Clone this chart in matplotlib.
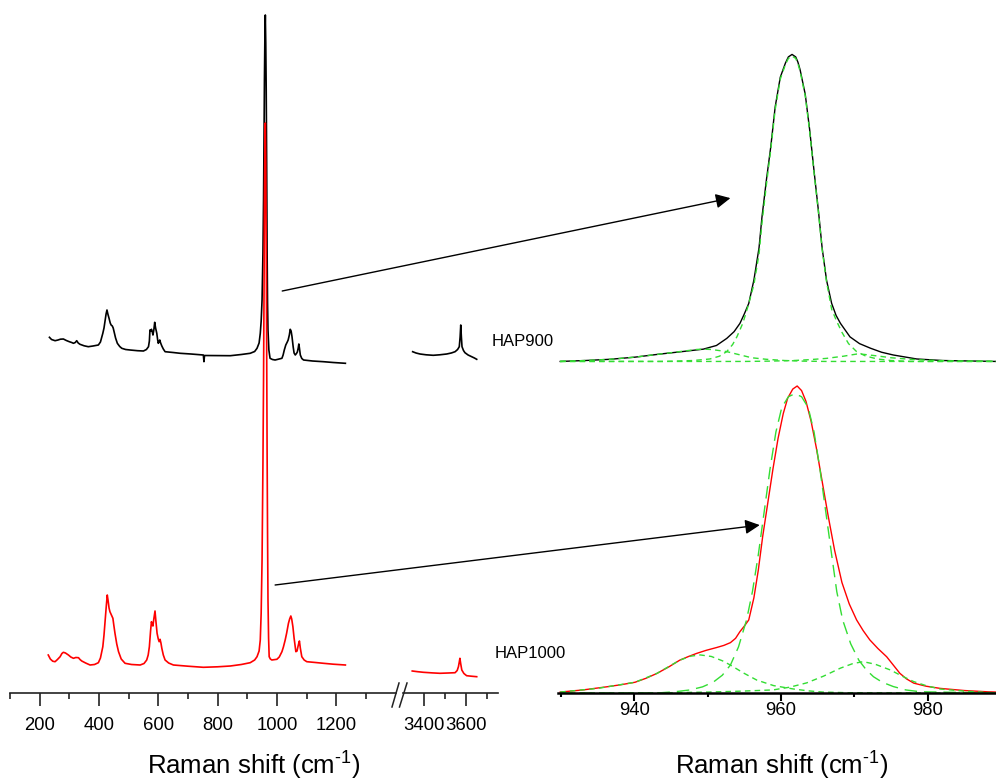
import matplotlib
matplotlib.use('Agg')

import matplotlib.pyplot as plt
from matplotlib.lines import Line2D
from matplotlib.ticker import FixedLocator

plt.rcParams['font.family'] = ['Liberation Sans', 'DejaVu Sans']
plt.rcParams['mathtext.fontset'] = 'custom'
plt.rcParams['mathtext.rm'] = 'Liberation Sans'
plt.rcParams['mathtext.it'] = 'Liberation Sans:italic'

# ---- full spectra (stacked intensity, a.u.) ----
# low-wavenumber part
hap900_x = [233, 240, 252, 262, 270, 280, 290, 300, 308, 314, 320, 325, 330, 336, 350, 364,
            380, 398, 405, 413, 417, 421, 424, 427, 430, 434, 438, 441, 445, 448, 451, 456,
            462, 470, 477, 490, 505, 530, 550, 560, 567, 570, 572, 575, 577, 580, 582, 585,
            588, 591, 595, 598, 600, 603, 605, 608, 612, 617, 623, 650, 674, 710, 752, 754,
            756, 800, 843, 880, 910, 925, 933, 940, 944, 947, 950, 953, 955, 957, 958, 959.5,
            961, 962.5, 964, 965.5, 967, 968.5, 970, 973, 977, 985, 994, 1005, 1017, 1021,
            1025, 1030, 1035, 1038, 1042, 1045, 1048, 1051, 1055, 1058, 1062, 1066, 1069,
            1072, 1074, 1076, 1079, 1084, 1090, 1120, 1157, 1190, 1231]
hap900_y = [355.7, 353.5, 352.3, 353, 353.8, 354, 352.5, 351.3, 350.5, 349.7, 350.5, 352.3,
            350, 348.7, 347.2, 346.3, 347, 348, 351, 359.7, 365, 373, 379, 383, 379, 374.7,
            370, 368, 367, 365, 361.3, 355, 349.7, 346.5, 344.7, 343.5, 343, 342.3, 342,
            343.5, 346.3, 352, 363, 362, 363.7, 361, 358, 363, 370.7, 365, 359.7, 353, 349.7,
            351.5, 353, 350, 347, 344, 341.3, 340.5, 339.7, 339, 338, 331.3, 337.5, 337.4,
            337.3, 338.5, 339.7, 341.5, 344.7, 350, 359.7, 372, 393, 440, 493, 570, 613,
            655, 678, 650, 603, 530, 443, 390, 363, 343, 334.7, 333.5, 333, 333.8, 334.7,
            338, 343, 348, 351, 353, 358, 363.7, 362, 356.3, 346, 340, 338, 339.5, 341, 345,
            349, 345, 338, 334.5, 333, 332, 331.3, 330.5, 329.7]
hap1000_x = [229, 236, 244, 252, 260, 269, 275, 280, 287, 297, 305, 314, 322, 331, 336, 342,
             355, 370, 385, 398, 405, 413, 417, 421, 425, 428, 431, 434, 437, 442, 447, 450,
             454, 460, 466, 475, 488, 510, 539, 552, 561, 566, 570, 574, 577, 580, 582, 585,
             589, 592, 596, 600, 603, 606, 609, 612, 617, 623, 635, 651, 700, 752, 800, 843,
             880, 910, 925, 933, 940, 944, 947, 950, 953, 955, 957, 958, 959.5, 961, 962.5,
             964, 965.5, 967, 968.5, 970, 972, 974, 978, 983, 990, 1000, 1008, 1017, 1022,
             1028, 1033, 1039, 1043, 1047, 1050, 1054, 1058, 1064, 1068, 1071, 1074, 1076,
             1079, 1084, 1092, 1101, 1130, 1157, 1190, 1231]
hap1000_y = [38, 34, 31.8, 31.3, 33.5, 36.3, 39.5, 40.7, 40, 38, 36, 34.7, 35.5, 35.3, 33.5,
             32, 30, 28, 28.5, 30.3, 35, 46.3, 58, 73, 88, 98, 92, 85, 81.3, 78, 74.7, 68,
             59.7, 49, 41.3, 34, 29.7, 28.5, 28, 29.5, 33, 38, 46.3, 62, 71.3, 68, 67, 74, 82,
             72, 59.7, 54, 51.3, 53.7, 50, 44.7, 38, 33, 30, 28, 26.8, 25.7, 26.2, 27, 28.5,
             30.3, 33, 36.3, 42, 53, 80, 133, 230, 313, 420, 493, 545, 570, 530, 453, 350, 243,
             160, 93, 55, 36.3, 34, 33, 33.3, 33.7, 36, 41.3, 46, 53, 60, 69.7, 74, 77, 74,
             66.3, 55, 41.3, 42, 46.3, 50, 52, 45, 36.3, 33, 31.3, 30.5, 29.7, 28.8, 28]
# OH stretching region
oh900_x = [3346, 3362, 3381, 3410, 3444, 3475, 3508, 3530, 3548, 3560, 3568, 3572, 3575,
           3578, 3581, 3588, 3595, 3610, 3627, 3640, 3651]
oh900_y = [341.3, 340, 339, 338.2, 337.7, 338.2, 339, 340, 341.3, 343.5, 346.3, 356, 368,
           356, 346.3, 342.5, 340.3, 338, 336.3, 335, 333.7]
oh1000_x = [3344, 3370, 3397, 3440, 3476, 3515, 3548, 3558, 3564, 3568, 3571, 3575, 3580,
            3590, 3603, 3625, 3651]
oh1000_y = [22, 21.3, 20.7, 20.1, 19.7, 20, 20.3, 22.5, 26.3, 31, 34.7, 29, 23, 19.5, 17.3,
            16.8, 16.3]

# ---- v1 PO4 band, normalised, with fitted components ----
b_x = [929.9, 933.3, 936.7, 940.1, 943.5, 946.5, 949.4, 951.2, 952.6, 953.6, 954.4, 955.0,
       955.6, 956.3, 957.0, 957.4, 958.0, 958.6, 959.2, 959.9, 960.6, 961.0, 961.5, 962.0,
       962.3, 962.6, 963.3, 963.9, 964.5, 965.1, 965.6, 966.2, 966.9, 967.5, 968.1, 969.4,
       970.7, 972.2, 973.7, 975.3, 978.5, 982, 989.3]
b_y = [0.0, 0.003, 0.007, 0.014, 0.024, 0.032, 0.040, 0.052, 0.075, 0.097, 0.124, 0.155,
       0.189, 0.265, 0.37, 0.47, 0.59, 0.699, 0.829, 0.926, 0.972, 0.992, 1.0, 0.992,
       0.975, 0.95, 0.87, 0.755, 0.62, 0.49, 0.37, 0.265, 0.189, 0.15, 0.124, 0.080,
       0.058, 0.043, 0.030, 0.021, 0.008, 0.003, 0.0]
b_main_x = [929.9, 944, 948.0, 950.3, 951.6, 952.6, 953.4, 954.0, 954.8, 955.5, 956.3, 957.0,
            957.4, 958.0, 958.6, 959.2, 959.9, 960.6, 961.0, 961.5, 962.0, 962.3, 962.6,
            963.3, 963.9, 964.5, 965.1, 965.6, 966.2, 966.9, 967.6, 968.3, 969.2, 970.3,
            971.5, 973.1, 975, 977.6, 989.3]
b_main_y = [0, 0, 0.003, 0.008, 0.017, 0.032, 0.055, 0.081, 0.125, 0.18, 0.25, 0.35, 0.45,
            0.575, 0.69, 0.82, 0.92, 0.967, 0.987, 0.995, 0.987, 0.97, 0.945, 0.865, 0.75,
            0.615, 0.485, 0.365, 0.26, 0.17, 0.13, 0.095, 0.058, 0.032, 0.018, 0.008, 0.003,
            0, 0]
b_low_x = [929.9, 933.3, 936.7, 940.1, 943.5, 946.5, 948.5, 949.4, 950.5, 952.6, 954.3,
           956.0, 958, 960.5, 963, 966, 989.3]
b_low_y = [0.0, 0.003, 0.007, 0.014, 0.024, 0.033, 0.039, 0.040, 0.039, 0.032, 0.022, 0.012,
           0.007, 0.003, 0.001, 0, 0]
b_high_x = [929.9, 955, 958.5, 961.7, 964, 966.2, 967.5, 968.5, 969.5, 970.3, 971.3, 973.1,
            975, 977.6, 980, 983, 989.3]
b_high_y = [0, 0, 0.001, 0.003, 0.006, 0.010, 0.014, 0.017, 0.021, 0.024, 0.023, 0.018,
            0.012, 0.007, 0.004, 0.002, 0]

r_x = [929.9, 933, 936.2, 938.2, 940.1, 941.6, 943.1, 944.7, 946.2, 947.4, 948.5, 949.8,
       951.2, 952.2, 953.1, 953.8, 954.4, 955.0, 955.6, 956.3, 956.9, 957.5, 958.2, 958.9,
       959.6, 960.3, 960.9, 961.6, 962.2, 962.8, 963.4, 964.1, 964.8, 965.6, 966.4, 967.3,
       968.3, 969.3, 970.3, 971.2, 972.1, 973.2, 974.4, 975.3, 976.2, 977.1, 978.1, 979.8,
       981.7, 985, 988.1, 989.3]
r_y = [0.003, 0.010, 0.020, 0.027, 0.035, 0.048, 0.064, 0.085, 0.107, 0.119, 0.129, 0.139,
       0.148, 0.155, 0.164, 0.178, 0.200, 0.218, 0.238, 0.31, 0.40, 0.51, 0.62, 0.73,
       0.83, 0.91, 0.96, 0.99, 1.0, 0.985, 0.95, 0.885, 0.80, 0.69, 0.58, 0.465, 0.36,
       0.29, 0.238, 0.203, 0.173, 0.145, 0.118, 0.091, 0.064, 0.046, 0.032, 0.022, 0.015,
       0.008, 0.004, 0.003]
r_main_x = [929.9, 943.1, 945.5, 947.6, 949.3, 950.8, 952.0, 953.1, 954.2, 955.3, 956.1,
            956.9, 957.7, 958.5, 959.3, 960.1, 961.0, 961.9, 962.8, 963.7, 964.5, 965.3,
            966.1, 966.9, 967.6, 968.4, 969.5, 970.6, 971.6, 972.6, 973.8, 975.3, 977, 979.0,
            989.3]
r_main_y = [0, 0, 0.004, 0.010, 0.020, 0.036, 0.058, 0.091, 0.150, 0.238, 0.33, 0.45, 0.59,
            0.73, 0.85, 0.93, 0.965, 0.975, 0.965, 0.93, 0.85, 0.73, 0.59, 0.45, 0.33,
            0.238, 0.16, 0.107, 0.076, 0.053, 0.035, 0.021, 0.010, 0.004, 0]
r_low_x = [929.9, 935, 940.1, 943.1, 946.2, 947.7, 949.0, 950.5, 952.0, 953.1, 954.9, 956.7,
           959, 961.7, 963.7, 965.7, 969, 989.3]
r_low_y = [0.003, 0.015, 0.035, 0.064, 0.107, 0.120, 0.124, 0.119, 0.105, 0.091, 0.065,
           0.042, 0.024, 0.013, 0.007, 0.003, 0.001, 0]
r_high_x = [929.9, 945, 950, 954.5, 958.9, 961.2, 963.5, 965.8, 968.1, 969.8, 971.2, 972.8,
            974.9, 976.5, 978.1, 979.9, 981.7, 985, 988.1, 989.3]
r_high_y = [0, 0.001, 0.003, 0.006, 0.010, 0.019, 0.033, 0.055, 0.081, 0.096, 0.102, 0.094,
            0.075, 0.055, 0.037, 0.023, 0.013, 0.006, 0.002, 0]
b_offset = 1.08

W, H = 996, 782


def box(x0, x1, y0, y1):
    # pixel box (top-left origin) -> figure fraction rect
    return [x0 / W, 1 - y1 / H, (x1 - x0) / W, (y1 - y0) / H]


fig = plt.figure(figsize=(W / 100, H / 100), dpi=100)

ax1 = fig.add_axes(box(10, 395.5, 0, 693))
ax2 = fig.add_axes(box(403, 497.5, 0, 693))
ax3 = fig.add_axes(box(558, 996, 0, 693))

ax1.plot(hap900_x, hap900_y, color='black', lw=1.2)
ax1.plot(hap1000_x, hap1000_y, color='red', lw=1.2)
ax2.plot(oh900_x, oh900_y, color='black', lw=1.2)
ax2.plot(oh1000_x, oh1000_y, color='red', lw=1.2)

for ax in (ax1, ax2):
    ax.set_ylim(0, 693)
    for s in ('left', 'right', 'top'):
        ax.spines[s].set_visible(False)
    ax.spines['bottom'].set_color('#222222')
    ax.spines['bottom'].set_linewidth(1.2)
    ax.set_yticks([])
    ax.patch.set_alpha(0)
    ax.tick_params(axis='x', which='major', direction='out', length=9, width=1.2,
                   color='#222222', labelsize=13.3, pad=8)
    ax.tick_params(axis='x', which='minor', direction='out', length=4.5, width=1.2,
                   color='#222222')

ax1.set_xlim(100, 1400)
ax1.set_xticks([200, 400, 600, 800, 1000, 1200])
ax1.xaxis.set_minor_locator(FixedLocator([100, 300, 500, 700, 900, 1100, 1300]))
ax2.set_xlim(3300, 3750)
ax2.set_xticks([3400, 3600])
ax2.xaxis.set_minor_locator(FixedLocator([3500, 3700]))

# axis break marks
for xa, xb in ((392, 399), (399.5, 407)):
    fig.add_artist(Line2D([xa / W, xb / W], [1 - 707 / H, 1 - 683 / H],
                          color='#222222', lw=1.1))

fig.text(492 / W, 1 - 341.7 / H, 'HAP900', fontsize=12, va='center')
fig.text(495 / W, 1 - 653 / H, 'HAP1000', fontsize=12, va='center')

# right panel: band fits
green = '#33dd33'
short = (0, (4, 3))
ax3.plot(b_x, [v + b_offset for v in b_y], color='black', lw=1.0)
ax3.plot(b_main_x, [v + b_offset for v in b_main_y], color=green, lw=1.0, ls=short)
ax3.plot(b_low_x, [v + b_offset for v in b_low_y], color=green, lw=1.0, ls=short)
ax3.plot(b_high_x, [v + b_offset for v in b_high_y], color=green, lw=1.0, ls=short)
ax3.plot(r_x, r_y, color='red', lw=1.0)
ax3.plot(r_main_x, r_main_y, color=green, lw=1.0, ls=(0, (9, 5)))
ax3.plot(r_low_x, r_low_y, color=green, lw=1.0, ls=short)
ax3.plot(r_high_x, r_high_y, color=green, lw=1.0, ls=short)
ax3.set_xlim(929.6, 989.3)
ax3.set_ylim(0, 693 / 307)
for s in ('left', 'right', 'top'):
    ax3.spines[s].set_visible(False)
ax3.spines['bottom'].set_linewidth(1.8)
ax3.set_yticks([])
ax3.patch.set_alpha(0)
ax3.set_xticks([940, 960, 980])
ax3.xaxis.set_minor_locator(FixedLocator([930, 950, 970]))
ax3.tick_params(axis='x', which='major', direction='out', length=6, width=1.5,
                labelsize=13.3, pad=0.5)
ax3.tick_params(axis='x', which='minor', direction='out', length=3, width=1.5)

label = 'Raman shift (cm$^{\\text{-}1}$)'
fig.text(253.5 / W, 1 - 766 / H, label, fontsize=18.5, ha='center', va='center')
fig.text(781.5 / W, 1 - 766 / H, label, fontsize=18.5, ha='center', va='center')

# arrows from the main band to the zoomed fits
ax3.annotate('', xy=(953.1, 0.532 + b_offset), xycoords='data',
             xytext=(1018, 402), textcoords=ax1.transData,
             arrowprops=dict(arrowstyle='-|>', color='black', lw=1.0, mutation_scale=22,
                             shrinkA=0, shrinkB=0),
             annotation_clip=False)
ax3.annotate('', xy=(957.1, 0.547), xycoords='data',
             xytext=(994, 108), textcoords=ax1.transData,
             arrowprops=dict(arrowstyle='-|>', color='black', lw=1.0, mutation_scale=22,
                             shrinkA=0, shrinkB=0),
             annotation_clip=False)

fig.savefig('out.png', dpi=100)
